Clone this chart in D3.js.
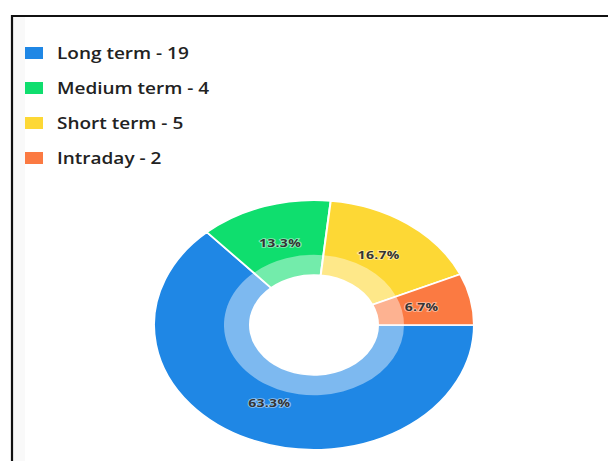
<!DOCTYPE html>
<html>
<head>
<meta charset="utf-8">
<script src="https://cdn.jsdelivr.net/npm/d3@7"></script>
<style>
  html, body { margin: 0; padding: 0; background: #fff; }
  svg { display: block; }
</style>
</head>
<body>
<svg id="chart" width="608" height="461"></svg>
<script>
// Portfolio split by holding horizon
const categories = ["Long term", "Medium term", "Short term", "Intraday"];
const counts = [19, 4, 5, 2];
const colors = ["#1f87e5", "#0fde6e", "#fdd835", "#fb7a42"];

const W = 608, H = 461;
const svg = d3.select("#chart");

// frame: top and left rules with a faint inner shade
svg.append("rect").attr("x", 13).attr("y", 17).attr("width", 12).attr("height", H)
  .attr("fill", "#f9f9f9");
svg.append("line").attr("x1", 12).attr("y1", 16).attr("x2", W).attr("y2", 16)
  .attr("stroke", "#111").attr("stroke-width", 2.2);
svg.append("line").attr("x1", 12).attr("y1", 15).attr("x2", 12).attr("y2", H)
  .attr("stroke", "#111").attr("stroke-width", 2.2);

// legend
const legendY = d3.scalePoint().domain(categories).range([53, 158]);
const legend = svg.append("g").selectAll("g").data(categories).join("g")
  .attr("transform", d => `translate(0,${legendY(d)})`);
legend.append("rect")
  .attr("x", 25).attr("y", -6).attr("width", 18).attr("height", 12)
  .attr("fill", (d, i) => colors[i]);
legend.append("text")
  .attr("transform", "translate(57,0) scale(1,0.88)")
  .attr("dy", "0.36em")
  .attr("font-family", "'Open Sans', sans-serif")
  .attr("font-weight", 600)
  .attr("font-size", 19)
  .attr("fill", "#222")
  .text((d, i) => `${d} - ${counts[i]}`);

// donut, drawn in a vertically compressed frame
const total = d3.sum(counts);
const rOuter = 160, rBand = 90, rInner = 64, rLabel = 110;
const pie = d3.pie().sort(null).startAngle(Math.PI / 2).endAngle(Math.PI / 2 + 2 * Math.PI);
const arcs = pie(counts);

const g = svg.append("g").attr("transform", "translate(314,325) scale(1,0.78)");

const outerArc = d3.arc().innerRadius(rInner).outerRadius(rOuter);
const bandArc = d3.arc().innerRadius(rInner).outerRadius(rBand);
const labelArc = d3.arc().innerRadius(rLabel).outerRadius(rLabel);

g.selectAll("path.slice").data(arcs).join("path")
  .attr("class", "slice")
  .attr("d", outerArc)
  .attr("fill", (d, i) => colors[i])
  .attr("stroke", "#fff")
  .attr("stroke-width", 2);

// lighter inner band
g.selectAll("path.band").data(arcs).join("path")
  .attr("class", "band")
  .attr("d", bandArc)
  .attr("fill", "#fff")
  .attr("fill-opacity", 0.42);

// percentage labels
g.selectAll("text.pct").data(arcs).join("text")
  .attr("class", "pct")
  .attr("transform", d => `translate(${labelArc.centroid(d)})`)
  .attr("text-anchor", "middle")
  .attr("dy", "0.35em")
  .attr("font-family", "'Open Sans', sans-serif")
  .attr("font-weight", 700)
  .attr("font-size", 14)
  .attr("letter-spacing", 0.3)
  .attr("fill", "#333")
  .attr("stroke", "rgba(255,255,255,0.5)")
  .attr("stroke-width", 2.2)
  .attr("paint-order", "stroke")
  .text(d => (d.data / total * 100).toFixed(1) + "%");
</script>
</body>
</html>
